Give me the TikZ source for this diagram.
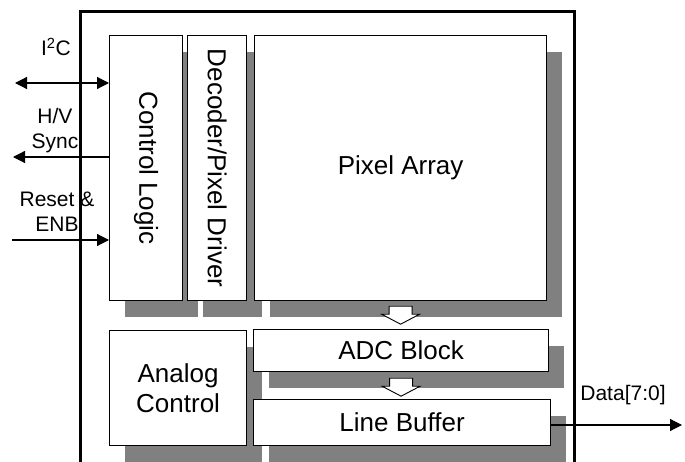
\documentclass[tikz,border=0pt]{standalone}
\usepackage{fontspec}
\setmainfont{Liberation Sans}
\usetikzlibrary{shadows, arrows.meta}

\begin{document}
\begin{tikzpicture}[x=1pt, y=-1pt,
    block/.style={rectangle, draw, line width=1.2pt, fill=white, anchor=north west, inner sep=0pt, font=\fontsize{26}{30}\selectfont,
        drop shadow={shadow xshift=15pt, shadow yshift=-16pt, fill=black!50, opacity=1}},
    vtext/.style={rotate=-90, inner sep=0pt, font=\fontsize{26}{30}\selectfont},
    sig/.style={inner sep=0pt, align=center, font=\fontsize{21}{25}\selectfont},
    line/.style={draw, line width=1.2pt, -{Triangle[length=12pt, width=12pt]}},
    both/.style={line, {Triangle[length=12pt, width=12pt]}-{Triangle[length=12pt, width=12pt]}},
    hollow/.style={draw, line width=0.9pt, fill=white}]

    \useasboundingbox (0,0) rectangle (685,462);
    \clip (0,0) rectangle (685,462);

    % chip outline
    \draw[line width=3pt] (80,470) -- (80,12) -- (574,12) -- (574,470);

    \node [block, minimum width=73pt, minimum height=265pt] (ctrl) at (109,35) {};
    \node [vtext] (ctrltext) at (ctrl.center) {Control Logic};
    \node [block, minimum width=59pt, minimum height=265pt] (dec) at (187,35) {};
    \node [vtext] (dectext) at (dec.center) {Decoder/Pixel Driver};
    \node [block, minimum width=292pt, minimum height=265pt] (pixel) at (254,35) {Pixel Array};
    \node [block, minimum width=137pt, minimum height=115pt, align=center] (analog) at (109,330) {Analog\\Control};
    \node [block, minimum width=295pt, minimum height=42pt] (adc) at (253,329) {ADC Block};
    \node [block, minimum width=297pt, minimum height=46pt] (lbuf) at (253,399) {Line Buffer};

    % block arrows
    \coordinate (a1) at ([yshift=-5pt]pixel.south);
    \coordinate (a2) at ([yshift=-6pt]adc.south);
    \draw[hollow] (a1) ++(-11.5,0) -- ++(0,8) -- ++(-7.5,0) -- ++(19,10) -- ++(19,-10) -- ++(-7.5,0) -- ++(0,-8) -- cycle;
    \draw[hollow] (a2) ++(-11.5,0) -- ++(0,8) -- ++(-7.5,0) -- ++(19,10) -- ++(19,-10) -- ++(-7.5,0) -- ++(0,-8) -- cycle;

    % signals
    \node [sig] (i2clab) at (56,47) {I\textsuperscript{2}C};
    \node [sig] (synclab) at (55,131) {H/V\\Sync};
    \node [sig] (rstlab) at (57,212) {Reset \&\\ENB};
    \node [sig] (datalab) at (623,395) {Data[7:0]};

    \coordinate (i2cend) at (15,83);
    \coordinate (syncend) at (13,157);
    \coordinate (rstend) at (12,240);
    \coordinate (dataend) at (682,425);

    \path [both] (i2cend) -- (i2cend -| ctrl.west);
    \path [line] (syncend -| ctrl.west) -- (syncend);
    \path [line] (rstend) -- (rstend -| ctrl.west);
    \path [line] (dataend -| lbuf.east) -- (dataend);
\end{tikzpicture}
\end{document}
